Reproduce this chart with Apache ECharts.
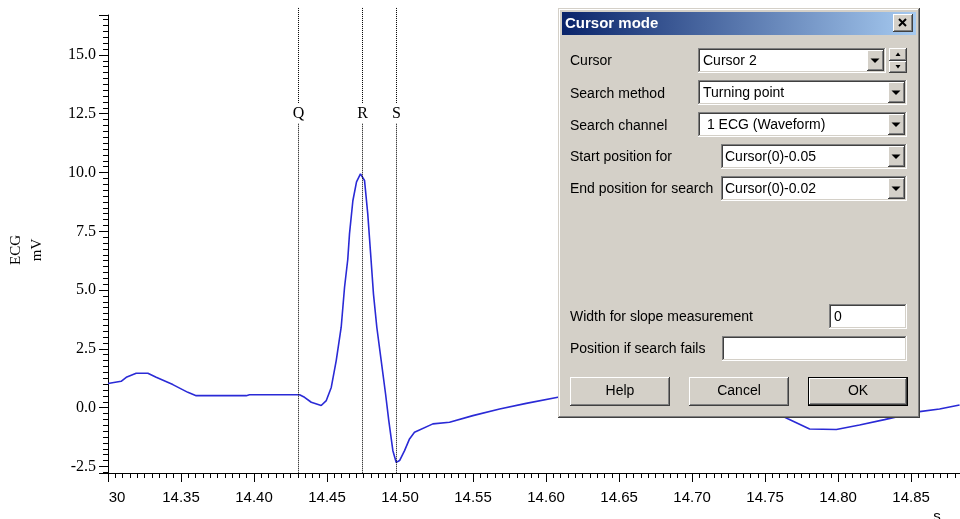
<!DOCTYPE html>
<html><head><meta charset="utf-8">
<script src="https://cdn.jsdelivr.net/npm/echarts@6/dist/echarts.min.js"></script>
<style>html,body{margin:0;padding:0;background:#fff}#c{width:960px;height:519px}</style>
</head><body><div id="c"></div>
<script>
// ---- data ----
const timeS = [14.3000,14.3090,14.3125,14.3193,14.3273,14.3330,14.3444,14.3547,14.3604,14.3947,14.3969,14.4312,14.4346,14.4392,14.4460,14.4495,14.4529,14.4563,14.4597,14.4620,14.4642,14.4654,14.4677,14.4702,14.4729,14.4757,14.4779,14.4798,14.4818,14.4841,14.4871,14.4901,14.4923,14.4951,14.4974,14.4997,14.5031,14.5065,14.5099,14.5225,14.5339,14.5499,14.5682,14.5864,14.6081,14.6300,14.6600,14.6900,14.7200,14.7450,14.7656,14.7805,14.7988,14.8147,14.8318,14.8558,14.8695,14.8832];
const ecgMV = [1.03,1.12,1.29,1.46,1.46,1.29,0.98,0.65,0.51,0.51,0.55,0.55,0.44,0.23,0.09,0.30,0.86,2.00,3.42,5.12,6.30,7.40,8.80,9.60,9.94,9.66,8.24,6.60,4.84,3.42,2.00,0.58,-0.55,-1.83,-2.33,-2.25,-1.83,-1.33,-1.05,-0.69,-0.62,-0.34,-0.06,0.18,0.44,0.60,0.72,0.75,0.55,0.15,-0.47,-0.91,-0.93,-0.74,-0.51,-0.17,-0.06,0.11];
const cursorPos = [14.4300, 14.4738, 14.4975];
const cursorNames = ['Q', 'R', 'S'];
const cursorLabelLevel = 12.5;
const cursorTopLevel = 17.0;
const xMin = 14.30, xMax = 14.8835, xStep = 0.05;
const yMin = -2.78, yMax = 16.7, yStep = 2.5;
const yName = 'ECG\nmV';
const xName = 's';

// dialog texts
const dialogTitle = 'Cursor mode';
const fieldLabels = ['Cursor', 'Search method', 'Search channel', 'Start position for', 'End position for search', 'Width for slope measurement', 'Position if search fails'];
const fieldValues = ['Cursor 2', 'Turning point', ' 1 ECG (Waveform)', 'Cursor(0)-0.05', 'Cursor(0)-0.02', '0', ''];
const buttonLabels = ['Help', 'Cancel', 'OK'];

// ---- dialog drawing helpers ----
const G = [];
const UI_FONT = '14px "Liberation Sans", Arial, sans-serif';
function rect(x, y, w, h, fill) {
  G.push({type: 'rect', z: 100, silent: true, shape: {x: x, y: y, width: w, height: h}, style: {fill: fill}});
}
function txt(x, y, text, opt) {
  G.push({type: 'text', z: 100, silent: true, x: x, y: y,
    style: Object.assign({text: text, fill: '#000', font: UI_FONT, textAlign: 'left', textVerticalAlign: 'middle', align: 'left', verticalAlign: 'middle'}, opt || {})});
}
function poly(points) {
  G.push({type: 'polygon', z: 100, silent: true, shape: {points: points}, style: {fill: '#000'}});
}
function raised(x, y, w, h) {
  rect(x, y, w, h, '#404040');
  rect(x, y, w - 1, h - 1, '#FFFFFF');
  rect(x + 1, y + 1, w - 2, h - 2, '#808080');
  rect(x + 1, y + 1, w - 3, h - 3, '#D4D0C8');
}
function sunken(x, y, w, h) {
  rect(x, y, w, h, '#FFFFFF');
  rect(x, y, w - 1, h - 1, '#808080');
  rect(x + 1, y + 1, w - 2, h - 2, '#D4D0C8');
  rect(x + 1, y + 1, w - 3, h - 3, '#404040');
  rect(x + 2, y + 2, w - 4, h - 4, '#FFFFFF');
}
function downArrow(cx, cy, hw, hh) { poly([[cx - hw, cy - hh], [cx + hw + 1, cy - hh], [cx + 0.5, cy + hh + 0.5]]); }
function upArrow(cx, cy, hw, hh) { poly([[cx - hw, cy + hh], [cx + hw + 1, cy + hh], [cx + 0.5, cy - hh - 0.5]]); }
function combo(x, y, w, h, text, tx) {
  sunken(x, y, w, h);
  txt(tx, y + h / 2 + 0.5, text);
  const bw = 17;
  raised(x + w - 2 - bw, y + 2, bw, h - 4);
  downArrow(x + w - 2 - bw / 2 - 1, y + h / 2, 4, 2);
}
function field(x, y, w, h, text, tx) {
  sunken(x, y, w, h);
  if (text) txt(tx, y + h / 2 + 0.5, text);
}

// frame
const DX = 558, DY = 8, DW = 362, DH = 410;
rect(DX, DY, DW, DH, '#404040');
rect(DX, DY, DW - 1, DH - 1, '#D4D0C8');
rect(DX + 1, DY + 1, DW - 2, DH - 2, '#808080');
rect(DX + 1, DY + 1, DW - 3, DH - 3, '#FFFFFF');
rect(DX + 2, DY + 2, DW - 4, DH - 4, '#D4D0C8');
// title bar
G.push({type: 'rect', z: 100, silent: true, shape: {x: DX + 4, y: DY + 4, width: DW - 8, height: 23},
  style: {fill: {type: 'linear', x: 0, y: 0, x2: 1, y2: 0, colorStops: [{offset: 0, color: '#0A246A'}, {offset: 1, color: '#A6CAF0'}]}}});
txt(DX + 7, DY + 16, dialogTitle, {fill: '#FFFFFF', font: 'bold 15px "Liberation Sans", Arial, sans-serif'});
// close button
raised(893, 14, 20, 18);
G.push({type: 'line', z: 100, silent: true, shape: {x1: 899, y1: 19, x2: 906, y2: 26}, style: {stroke: '#000', lineWidth: 2}});
G.push({type: 'line', z: 100, silent: true, shape: {x1: 906, y1: 19, x2: 899, y2: 26}, style: {stroke: '#000', lineWidth: 2}});

// labels
const labelY = [61, 94, 126, 157, 189, 317, 349];
fieldLabels.forEach(function (t, i) { txt(570, labelY[i], t); });
// fields
combo(698, 48, 188, 25, fieldValues[0], 703);
raised(889, 48, 18, 13); upArrow(897.5, 54.5, 2, 1.5);
raised(889, 61, 18, 12); downArrow(897.5, 66.5, 2, 1.5);
combo(698, 80, 209, 25, fieldValues[1], 703);
combo(698, 112, 209, 25, fieldValues[2], 703);
combo(721, 144, 186, 25, fieldValues[3], 725);
combo(721, 176, 186, 25, fieldValues[4], 725);
field(829, 304, 78, 25, fieldValues[5], 834);
field(722, 336, 185, 25, fieldValues[6], 726);
// buttons
raised(570, 377, 100, 29);
txt(620, 391.5, buttonLabels[0], {textAlign: 'center', align: 'center'});
raised(689, 377, 100, 29);
txt(739, 391.5, buttonLabels[1], {textAlign: 'center', align: 'center'});
rect(808, 377, 100, 29, '#000000');
raised(809, 378, 98, 27);
txt(858, 391.5, buttonLabels[2], {textAlign: 'center', align: 'center'});

// ---- chart ----
const chart = echarts.init(document.getElementById('c'), null, {renderer: 'canvas'});
const isMultiple = function (v, s) { return Math.abs(v / s - Math.round(v / s)) < 1e-6; };

chart.setOption({
  animation: false,
  backgroundColor: '#ffffff',
  grid: {left: 108, right: 0, top: 15, bottom: 46, containLabel: false, outerBoundsMode: 'none'},
  xAxis: {
    type: 'value', min: xMin, max: xMax, interval: xStep,
    axisLine: {show: true, onZero: false, lineStyle: {color: '#000', width: 1}},
    axisTick: {show: true, length: 9, lineStyle: {color: '#000'}},
    minorTick: {show: true, splitNumber: 10, length: 5, lineStyle: {color: '#000'}},
    splitLine: {show: false},
    axisLabel: {
      color: '#000', fontFamily: '"Liberation Sans", Arial, sans-serif', fontSize: 15, margin: 17,
      showMinLabel: true, showMaxLabel: false, hideOverlap: false,
      formatter: function (v) {
        if (!isMultiple(v, xStep)) return '';
        if (Math.abs(v - xMin) < 1e-9) return '{c|' + v.toFixed(2).slice(3) + '}';
        return v.toFixed(2);
      },
      rich: {c: {padding: [0, 0, 0, 18], color: '#000', fontFamily: '"Liberation Sans", Arial, sans-serif', fontSize: 15}}
    },
    name: xName, nameLocation: 'end', nameGap: -23,
    nameTextStyle: {color: '#000', fontFamily: '"Liberation Sans", Arial, sans-serif', fontSize: 15, align: 'center', verticalAlign: 'top', padding: [36, 0, 0, 0]}
  },
  yAxis: {
    type: 'value', min: yMin, max: yMax, minInterval: yStep, maxInterval: yStep, splitNumber: 8,
    axisLine: {show: true, onZero: false, lineStyle: {color: '#000', width: 1}},
    axisTick: {show: true, length: 9, lineStyle: {color: '#000'}},
    minorTick: {show: true, splitNumber: 10, length: 5, lineStyle: {color: '#000'}},
    splitLine: {show: false},
    axisLabel: {
      color: '#000', fontFamily: '"Liberation Serif", "Times New Roman", serif', fontSize: 16, margin: 12,
      showMinLabel: false, showMaxLabel: false, hideOverlap: false,
      formatter: function (v) { return isMultiple(v, yStep) ? v.toFixed(1) : ''; }
    },
    name: yName, nameLocation: 'middle', nameRotate: 90, nameGap: 60,
    nameTextStyle: {color: '#000', fontFamily: '"Liberation Serif", "Times New Roman", serif', fontSize: 15, lineHeight: 21, padding: [0, 12, 0, 0]}
  },
  series: [
    {
      type: 'line', data: timeS.map(function (t, i) { return [t, ecgMV[i]]; }),
      showSymbol: false, symbol: 'none', clip: true, z: 3,
      lineStyle: {color: '#2a2ad6', width: 1.6}
    },
    {
      type: 'custom', clip: false, z: 4, silent: true,
      data: cursorPos.map(function (v, i) { return [v, i]; }),
      renderItem: function (params, api) {
        const xv = api.value(0);
        const x = Math.round(api.coord([xv, 0])[0]) + 0.5;
        const top = api.coord([xv, cursorTopLevel])[1];
        const bottom = api.coord([xv, yMin])[1];
        const ly = api.coord([xv, cursorLabelLevel])[1];
        const ls = {stroke: '#000', lineWidth: 1, lineDash: [1, 1]};
        return {type: 'group', children: [
          {type: 'line', shape: {x1: x, y1: top, x2: x, y2: ly - 10}, style: ls},
          {type: 'line', shape: {x1: x, y1: ly + 10, x2: x, y2: bottom}, style: ls},
          {type: 'text', x: x, y: ly, style: {text: cursorNames[api.value(1)], fill: '#000', font: '16px "Liberation Serif", "Times New Roman", serif', align: 'center', verticalAlign: 'middle', textAlign: 'center', textVerticalAlign: 'middle'}}
        ]};
      }
    }
  ],
  graphic: {elements: G}
});
</script>
</body></html>
